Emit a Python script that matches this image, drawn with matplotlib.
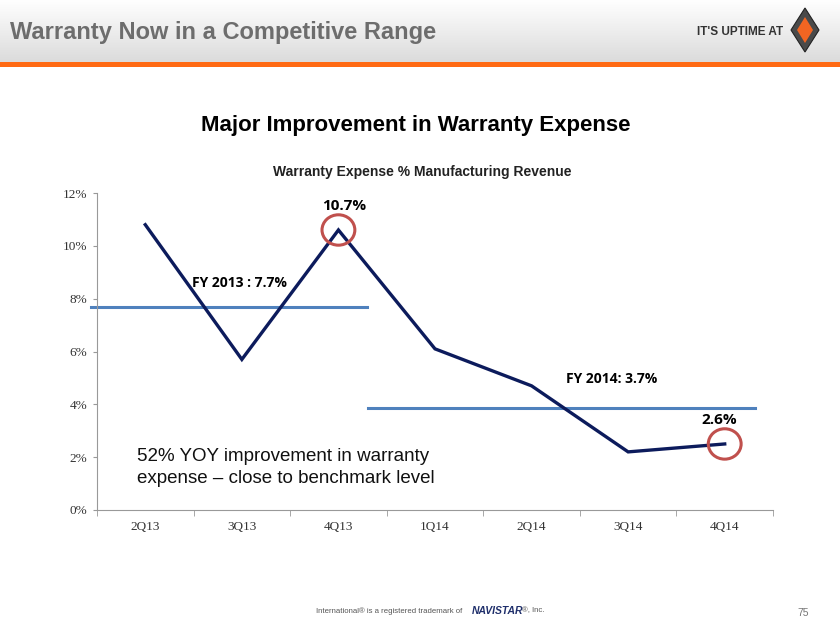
import matplotlib
matplotlib.use("Agg")
import matplotlib.pyplot as plt
import numpy as np
from matplotlib.patches import Ellipse, Rectangle, Polygon

quarters = ["2Q13", "3Q13", "4Q13", "1Q14", "2Q14", "3Q14", "4Q14"]
expense_pct = [10.8, 5.7, 10.6, 6.1, 4.7, 2.2, 2.5]
fy_labels = ["FY 2013 : 7.7%", "FY 2014: 3.7%"]
fy_values = [7.7, 3.85]
fy_spans = [(-0.56, 2.3), (2.31, 6.31)]
yticks = [0, 2, 4, 6, 8, 10, 12]

fig = plt.figure(figsize=(8.4, 6.3), dpi=100)
fig.patch.set_facecolor("white")

# header gradient
hdr = fig.add_axes([0, 1 - 62/630, 1, 62/630])
grad = np.linspace(0.86, 1.0, 100).reshape(-1, 1)
hdr.imshow(np.dstack([grad, grad, grad]), aspect="auto", extent=[0, 1, 0, 1], origin="lower")
hdr.set_xlim(0, 1); hdr.set_ylim(0, 1); hdr.axis("off")
fig.add_artist(Rectangle((0, 1 - 67/630), 1, 5/630, transform=fig.transFigure,
                         color="#FF6A13", lw=0))
fig.text(10/840, 1 - 33/630, "Warranty Now in a Competitive Range", fontsize=17,
         fontweight="bold", color="#6D6D6D", va="center", ha="left",
         family="Liberation Sans")
fig.text(783/840, 1 - 32/630, "IT'S UPTIME AT", fontsize=8.5, fontweight="bold",
         color="#333333", va="center", ha="right", family="Liberation Sans")
cx, cy = 805/840, 1 - 30/630
w, h = 14/840, 22/630
fig.add_artist(Polygon([(cx, cy + h), (cx + w, cy), (cx, cy - h), (cx - w, cy)],
                       closed=True, transform=fig.transFigure, facecolor="#4A4A4A",
                       edgecolor="#222222", lw=0.8))
w2, h2 = 8/840, 13/630
fig.add_artist(Polygon([(cx, cy + h2), (cx + w2, cy), (cx, cy - h2), (cx - w2, cy)],
                       closed=True, transform=fig.transFigure, facecolor="#F26522",
                       edgecolor="none"))

fig.text(0.5 - 4/840, 1 - 126/630, "Major Improvement in Warranty Expense", fontsize=16,
         fontweight="bold", color="black", ha="center", va="center",
         family="Liberation Sans")
fig.text(422/840, 1 - 172/630, "Warranty Expense % Manufacturing Revenue", fontsize=10,
         fontweight="bold", color="#222222", ha="center", va="center",
         family="Liberation Sans")

ax = fig.add_axes([97/840, 1 - 510/630, (773 - 97)/840, (510 - 193)/630])
x = np.arange(len(quarters))
ax.plot(x, expense_pct, color="#0C1B5C", lw=2.4, solid_joinstyle="miter", zorder=3)
for val, (a, b) in zip(fy_values, fy_spans):
    ax.plot([a, b], [val, val], color="#4F81BD", lw=2.2, zorder=2, clip_on=False)

ax.set_xlim(-0.5, 6.5)
ax.set_ylim(0, 12)
ax.set_yticks(yticks)
ax.set_yticklabels([f"{v}%" for v in yticks], family="Liberation Serif", fontsize=9.5,
                   color="#333333")
ax.set_xticks(x)
ax.set_xticklabels(quarters, family="Liberation Serif", fontsize=9.5, color="#333333")
ax.set_xticks(np.arange(-0.5, 7, 1), minor=True)
ax.tick_params(axis="x", which="major", length=0, pad=8)
ax.tick_params(axis="x", which="minor", length=4, color="#999999", direction="out")
ax.tick_params(axis="y", length=3, color="#999999", direction="out", pad=4)
for s in ["top", "right"]:
    ax.spines[s].set_visible(False)
for s in ["left", "bottom"]:
    ax.spines[s].set_color("#999999")
    ax.spines[s].set_linewidth(0.8)

# highlight circles
for i in [2, 6]:
    ax.add_patch(Ellipse((x[i], expense_pct[i]), 0.34, 1.15, fill=False,
                         edgecolor="#C0504D", lw=2.2, zorder=4))

ax.text(2.06, 11.5, "10.7%", fontsize=11, fontweight="bold", ha="center", va="center",
        family="Open Sans")
ax.text(6.0 - 0.06, 3.4, "2.6%", fontsize=11, fontweight="bold", ha="center", va="center",
        family="Open Sans")
ax.text(0.98, 8.6, fy_labels[0], fontsize=10, fontweight="bold", ha="center",
        va="center", family="Open Sans")
ax.text(4.83, 4.95, fy_labels[1], fontsize=10, fontweight="bold", ha="center",
        va="center", family="Open Sans")
ax.text(-0.09, 1.6, "52% YOY improvement in warranty\nexpense \u2013 close to benchmark level",
        fontsize=13.5, ha="left", va="center", family="Liberation Sans",
        color="#111111", linespacing=1.35)

fig.text(316/840, 1 - 611/630,
         "International\u00ae is a registered trademark of", fontsize=5.6,
         color="#555555", ha="left", va="center", family="Liberation Sans")
fig.text(472/840, 1 - 611/630, "NAVISTAR", fontsize=7.5, fontweight="bold",
         style="italic", color="#1F2F6B", ha="left", va="center", family="Liberation Sans")
fig.text(522/840, 1 - 611/630, "\u00ae, Inc.", fontsize=5.6, color="#555555", ha="left",
         va="center", family="Liberation Sans")
fig.text(797/840, 1 - 613/630, "75", fontsize=7.5, color="#777777", ha="left",
         va="center", family="Liberation Sans")

fig.savefig("out.png", dpi=100)
